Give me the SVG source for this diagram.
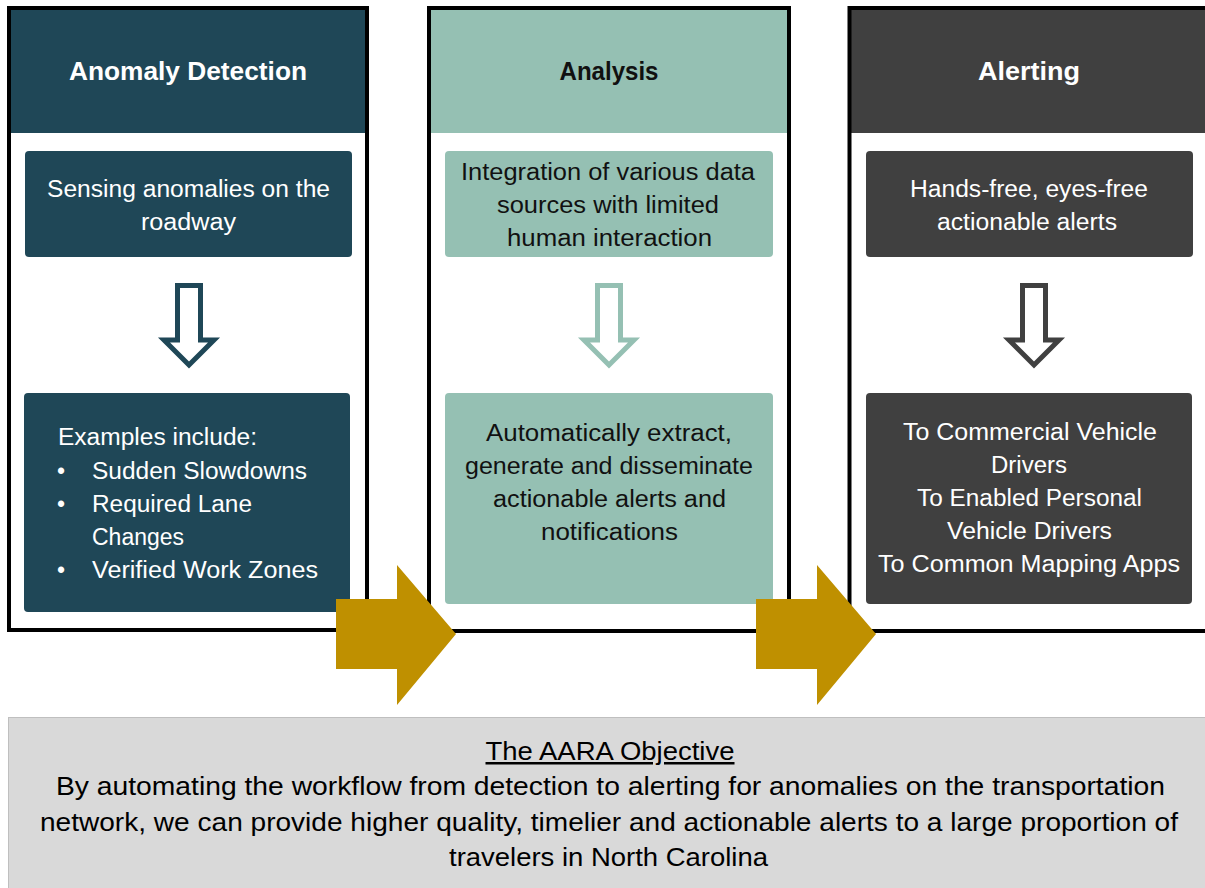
<svg xmlns="http://www.w3.org/2000/svg" width="1205" height="888" viewBox="0 0 1205 888">
<style>
.frame{fill:none;stroke:#000;stroke-width:4}
.dark{fill:#1F4757}
.teal{fill:#95C0B3}
.gray{fill:#404040}
.hdr{font-family:"Liberation Sans",Arial,sans-serif;font-weight:bold;font-size:25px;text-anchor:middle}
.txt{font-family:"Liberation Sans",Arial,sans-serif;font-size:23px;text-anchor:middle}
.left{text-anchor:start}
.w{fill:#fff}
.k{fill:#111}
.down{fill:#fff;stroke-width:5;stroke-linejoin:miter}
.gold{fill:#BF9000}
.obj{font-family:"Liberation Sans",Arial,sans-serif;font-size:25px;text-anchor:middle;fill:#000}
</style>
<rect width="1205" height="888" fill="#fff"/>
<g id="panel-detection">
<rect class="dark" x="9" y="8" width="358" height="125"/>
<rect class="frame" x="9" y="8" width="358" height="622"/>
<text class="hdr w" x="188" y="80" textLength="238" lengthAdjust="spacingAndGlyphs">Anomaly Detection</text>
<rect class="dark" x="25" y="151" width="327" height="106" rx="4"/>
<text class="txt w" x="188.5" y="197" textLength="283" lengthAdjust="spacingAndGlyphs">Sensing anomalies on the</text>
<text class="txt w" x="188.5" y="230" textLength="95" lengthAdjust="spacingAndGlyphs">roadway</text>
<polygon class="down" stroke="#1F4757" points="177.5,285.5 200.5,285.5 200.5,340 214,340 189,365 164,340 177.5,340"/>
<rect class="dark" x="24" y="393" width="326" height="219" rx="4"/>
<text class="txt w left" x="58" y="445" textLength="199" lengthAdjust="spacingAndGlyphs">Examples include:</text>
<text class="txt w left" x="57" y="479">•</text>
<text class="txt w left" x="92" y="479" textLength="215" lengthAdjust="spacingAndGlyphs">Sudden Slowdowns</text>
<text class="txt w left" x="57" y="512">•</text>
<text class="txt w left" x="92" y="512" textLength="160" lengthAdjust="spacingAndGlyphs">Required Lane</text>
<text class="txt w left" x="92" y="545" textLength="92" lengthAdjust="spacingAndGlyphs">Changes</text>
<text class="txt w left" x="57" y="578">•</text>
<text class="txt w left" x="92" y="578" textLength="226" lengthAdjust="spacingAndGlyphs">Verified Work Zones</text>
</g>
<g id="panel-analysis">
<rect class="teal" x="429" y="8" width="360" height="125"/>
<rect class="frame" x="429" y="8" width="360" height="623"/>
<text class="hdr k" x="609" y="80" textLength="99" lengthAdjust="spacingAndGlyphs">Analysis</text>
<rect class="teal" x="445" y="151" width="328" height="106" rx="4"/>
<text class="txt k" x="608" y="180" textLength="294" lengthAdjust="spacingAndGlyphs">Integration of various data</text>
<text class="txt k" x="608" y="213" textLength="222" lengthAdjust="spacingAndGlyphs">sources with limited</text>
<text class="txt k" x="609.5" y="246" textLength="205" lengthAdjust="spacingAndGlyphs">human interaction</text>
<polygon class="down" stroke="#95C0B3" points="597.5,285.5 620.5,285.5 620.5,340 634,340 609,365 584,340 597.5,340"/>
<rect class="teal" x="445" y="393" width="328" height="211" rx="4"/>
<text class="txt k" x="609" y="441" textLength="246" lengthAdjust="spacingAndGlyphs">Automatically extract,</text>
<text class="txt k" x="609" y="474" textLength="288" lengthAdjust="spacingAndGlyphs">generate and disseminate</text>
<text class="txt k" x="609.5" y="507" textLength="233" lengthAdjust="spacingAndGlyphs">actionable alerts and</text>
<text class="txt k" x="609.5" y="540" textLength="137" lengthAdjust="spacingAndGlyphs">notifications</text>
</g>
<g id="panel-alerting">
<rect class="gray" x="849" y="8" width="360" height="125"/>
<rect class="frame" x="849.5" y="8" width="400" height="623"/>
<text class="hdr w" x="1029" y="80" textLength="102" lengthAdjust="spacingAndGlyphs">Alerting</text>
<rect class="gray" x="866" y="151" width="327" height="106" rx="4"/>
<text class="txt w" x="1029" y="197" textLength="238" lengthAdjust="spacingAndGlyphs">Hands-free, eyes-free</text>
<text class="txt w" x="1027" y="230" textLength="180" lengthAdjust="spacingAndGlyphs">actionable alerts</text>
<polygon class="down" stroke="#404040" points="1022.5,285.5 1045.5,285.5 1045.5,340 1059,340 1034,365 1009,340 1022.5,340"/>
<rect class="gray" x="866" y="393" width="326" height="211" rx="4"/>
<text class="txt w" x="1030" y="440" textLength="254" lengthAdjust="spacingAndGlyphs">To Commercial Vehicle</text>
<text class="txt w" x="1029" y="473" textLength="76" lengthAdjust="spacingAndGlyphs">Drivers</text>
<text class="txt w" x="1029.5" y="506" textLength="225" lengthAdjust="spacingAndGlyphs">To Enabled Personal</text>
<text class="txt w" x="1029.5" y="539" textLength="165" lengthAdjust="spacingAndGlyphs">Vehicle Drivers</text>
<text class="txt w" x="1029" y="572" textLength="302" lengthAdjust="spacingAndGlyphs">To Common Mapping Apps</text>
</g>
<g id="connectors">
<polygon class="gold" points="336,599 397,599 397,565 456,634 397,705 397,669 336,669"/>
<polygon class="gold" points="756,599 817,599 817,565 876,634 817,705 817,669 756,669"/>
</g>
<g id="objective">
<rect x="8.5" y="717.5" width="1210" height="180" fill="#D9D9D9" stroke="#BFBFBF" stroke-width="1"/>
<text class="obj" x="610" y="760" textLength="249" lengthAdjust="spacingAndGlyphs" text-decoration="underline">The AARA Objective</text>
<text class="obj" x="610.5" y="795" textLength="1109" lengthAdjust="spacingAndGlyphs">By automating the workflow from detection to alerting for anomalies on the transportation</text>
<text class="obj" x="609" y="831" textLength="1138" lengthAdjust="spacingAndGlyphs">network, we can provide higher quality, timelier and actionable alerts to a large proportion of</text>
<text class="obj" x="608.5" y="866" textLength="319" lengthAdjust="spacingAndGlyphs">travelers in North Carolina</text>
</g>
</svg>
